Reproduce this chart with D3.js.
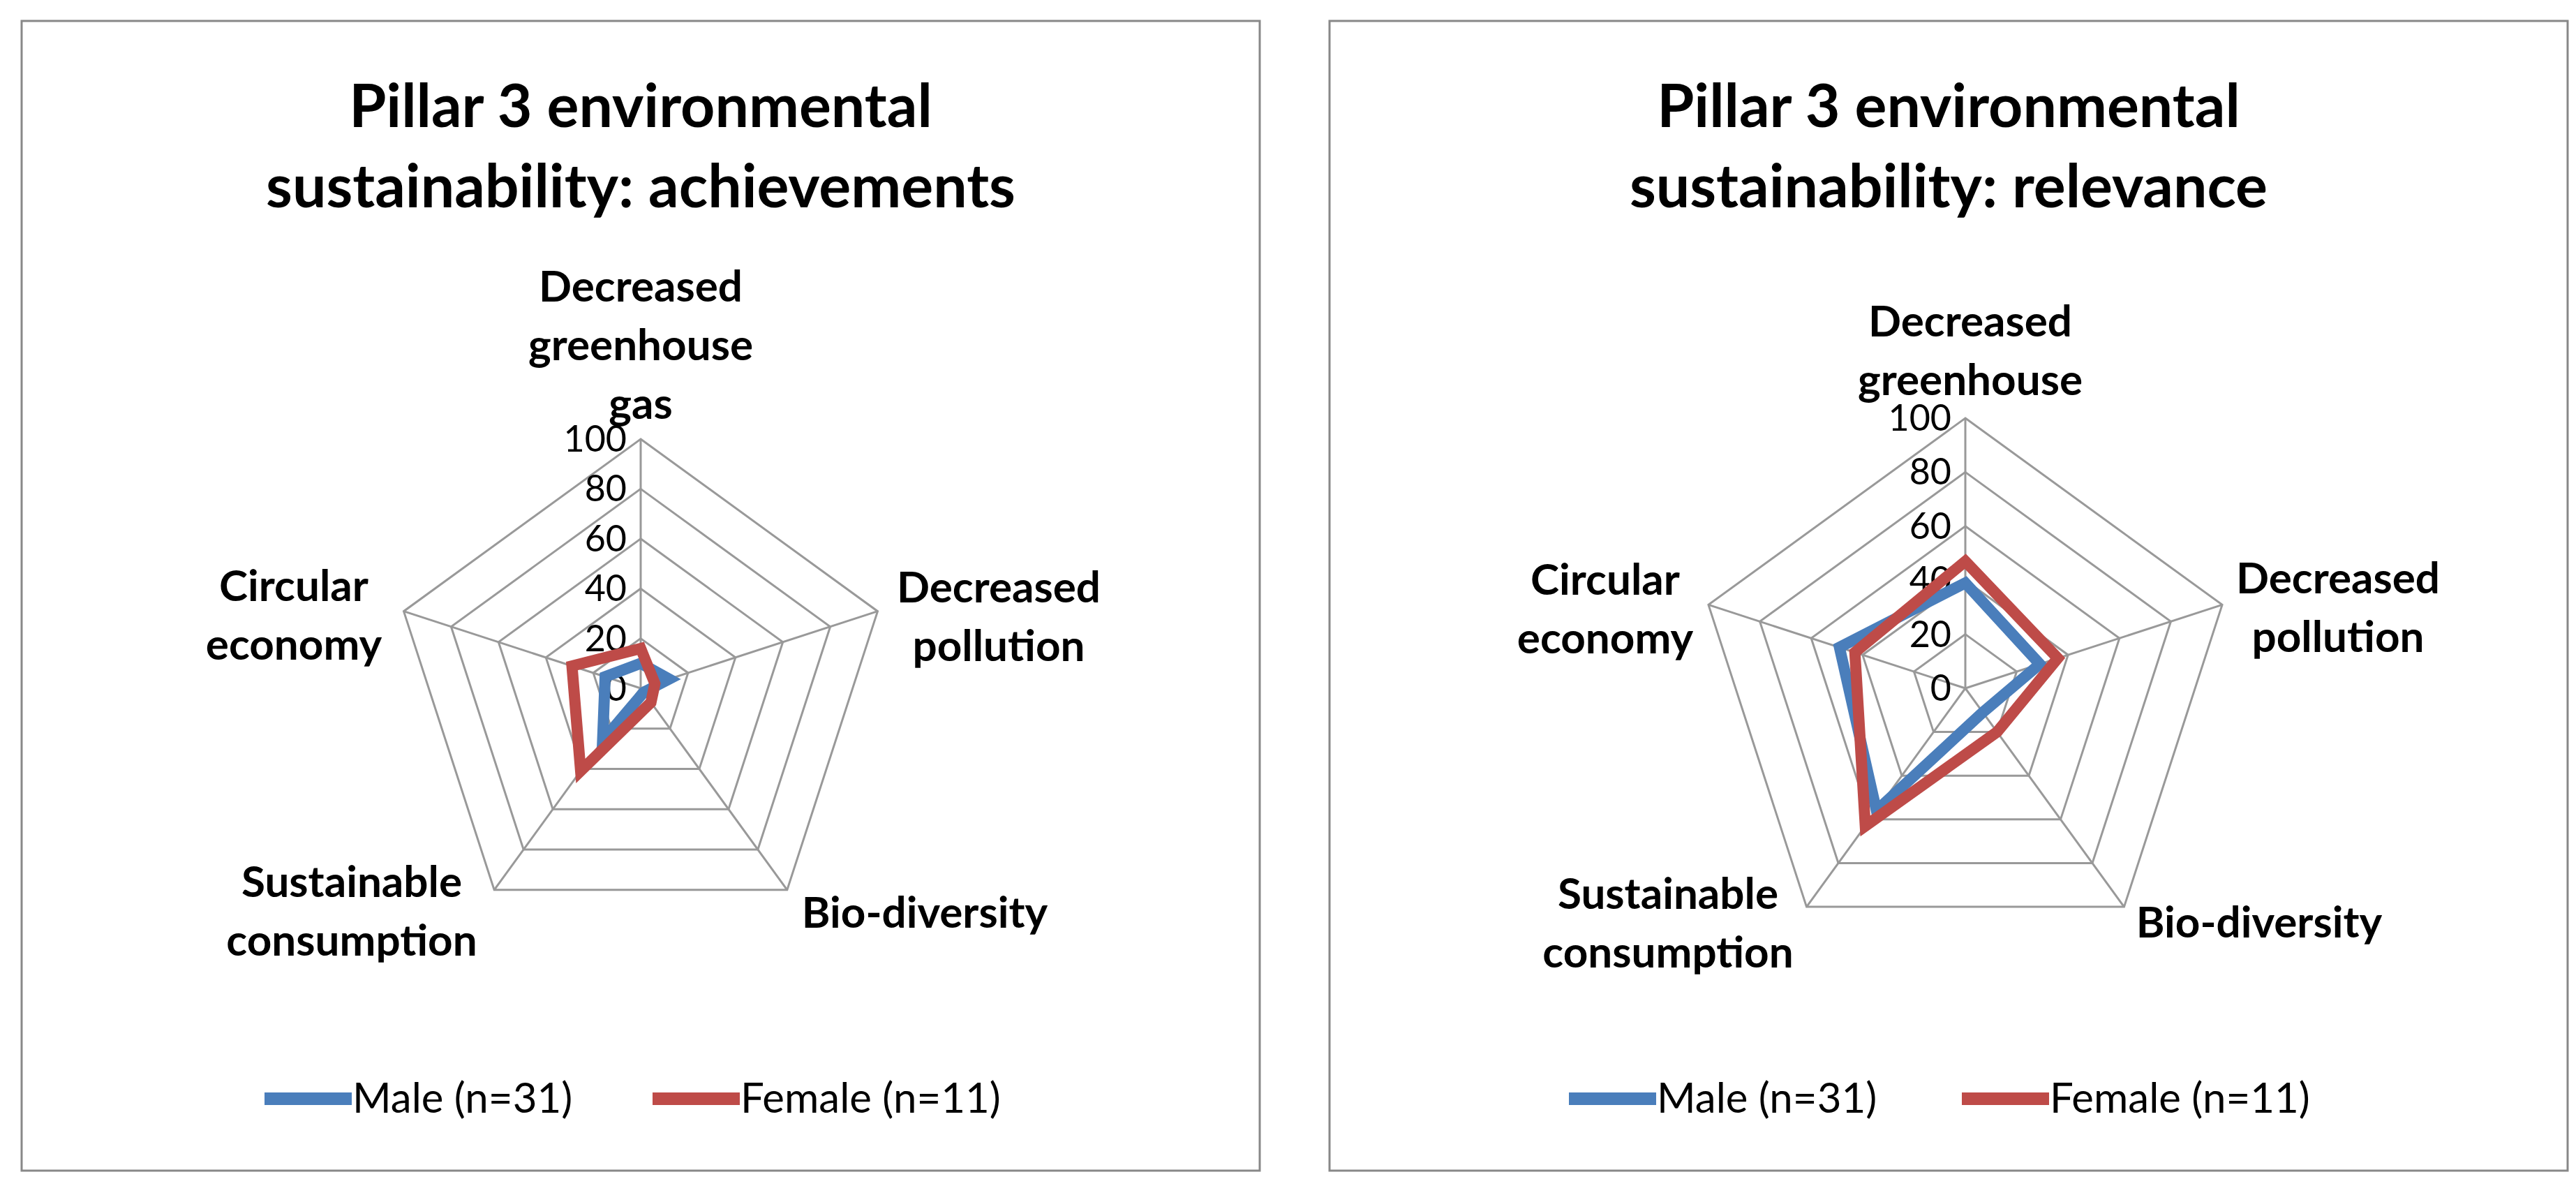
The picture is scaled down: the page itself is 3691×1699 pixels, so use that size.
<!DOCTYPE html>
<html>
<head>
	<title>Pillar 3 environmental sustainability</title>
	<style>
		body { margin: 0; background: #fff; }
		svg text { font-family: Lato, "Open Sans", sans-serif; fill: #000; }
		.grid { fill: none; stroke: #999; stroke-width: 3px; }
		.series { fill: none; stroke-width: 16px; stroke-linejoin: miter; }
	</style>
</head>
<body>
	<div id="chart"></div>
	<script src="https://cdn.jsdelivr.net/npm/d3@7"></script>
	<script>
		// categories and series
		var categories = ['Decreased greenhouse gas', 'Decreased pollution', 'Bio-diversity', 'Sustainable consumption', 'Circular economy'];
		var ticks = [0, 20, 40, 60, 80, 100];
		var seriesNames = ['Male (n=31)', 'Female (n=11)'];
		var achieveMale = [10, 12, 2, 26, 15];
		var achieveFemale = [16, 6, 7, 41, 29];
		var relevMale = [39, 29, 11, 56, 49];
		var relevFemale = [47, 36, 20, 63, 43];

		var colors = ['#4a7ebb', '#be4b48'];

		var svg = d3.select('#chart').append('svg')
			.attr('width', 3691).attr('height', 1699);

		function panel(opt) {
			var g = svg.append('g');
			g.append('rect').attr('x', opt.x0).attr('y', 30).attr('width', 1774).attr('height', 1647)
				.attr('fill', '#fff').attr('stroke', '#888').attr('stroke-width', 3);

			var title = g.append('text').attr('text-anchor', 'middle')
				.attr('font-size', 86).attr('font-weight', 'bold');
			opt.title.forEach(function (t, i) {
				title.append('tspan').attr('x', opt.tx).attr('y', 182 + i * 115).text(t);
			});

			var r = d3.scaleLinear().domain([0, 100]).range([0, opt.radius]);
			var angle = function (i) { return i * 2 * Math.PI / categories.length; };
			var pt = function (i, v) {
				return [opt.cx + r(v) * Math.sin(angle(i)), opt.cy - r(v) * Math.cos(angle(i))];
			};

			// grid rings
			ticks.slice(1).forEach(function (t) {
				g.append('path').attr('class', 'grid')
					.attr('d', d3.line()(categories.map(function (c, i) { return pt(i, t); })) + 'Z');
			});
			categories.forEach(function (c, i) {
				g.append('path').attr('class', 'grid').attr('d', d3.line()([pt(i, 0), pt(i, 100)]));
			});
			ticks.forEach(function (t) {
				g.append('text').attr('x', opt.cx - 20).attr('y', opt.cy - r(t) + 18)
					.attr('text-anchor', 'end').attr('font-size', 52).text(t);
			});

			// category labels
			opt.labels.forEach(function (l, i) {
				var txt = g.append('text').attr('text-anchor', 'middle')
					.attr('font-size', 62).attr('font-weight', 'bold');
				l.lines.forEach(function (s, k) {
					txt.append('tspan').attr('x', l.x).attr('y', l.y + k * 84 + 22).text(s);
				});
			});

			// series
			opt.series.forEach(function (vals, s) {
				g.append('path').attr('class', 'series').attr('stroke', colors[s])
					.attr('d', d3.line()(vals.map(function (v, i) { return pt(i, v); })) + 'Z');
			});

			// legend
			seriesNames.forEach(function (n, s) {
				var lx = opt.legend[s];
				g.append('line').attr('x1', lx).attr('x2', lx + 125).attr('y1', 1574).attr('y2', 1574)
					.attr('stroke', colors[s]).attr('stroke-width', 18);
				g.append('text').attr('x', lx + 126).attr('y', 1594).attr('font-size', 60).text(n);
			});
		}

		panel({
			x0: 31, tx: 918, cx: 918, cy: 986, radius: 357,
			title: ['Pillar 3 environmental', 'sustainability: achievements'],
			series: [achieveMale, achieveFemale],
			legend: [379, 935],
			labels: [
				{ x: 918, y: 410, lines: ['Decreased', 'greenhouse', 'gas'] },
				{ x: 1431, y: 841, lines: ['Decreased', 'pollution'] },
				{ x: 1325, y: 1307, lines: ['Bio-diversity'] },
				{ x: 504, y: 1263, lines: ['Sustainable', 'consumption'] },
				{ x: 421, y: 839, lines: ['Circular', 'economy'] }
			]
		});

		panel({
			x0: 1905, tx: 2792, cx: 2816, cy: 986, radius: 387,
			title: ['Pillar 3 environmental', 'sustainability: relevance'],
			series: [relevMale, relevFemale],
			legend: [2248, 2811],
			labels: [
				{ x: 2823, y: 460, lines: ['Decreased', 'greenhouse'] },
				{ x: 3350, y: 828, lines: ['Decreased', 'pollution'] },
				{ x: 3237, y: 1321, lines: ['Bio-diversity'] },
				{ x: 2390, y: 1280, lines: ['Sustainable', 'consumption'] },
				{ x: 2300, y: 830, lines: ['Circular', 'economy'] }
			]
		});
	</script>
</body>
</html>
